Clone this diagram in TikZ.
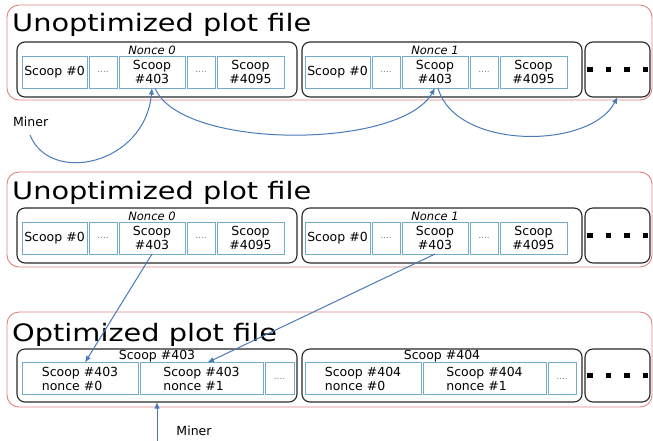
\documentclass[tikz,border=0pt]{standalone}
\usepackage{fontspec}
\setmainfont{DejaVu Sans}
\usepackage{graphicx}
\usetikzlibrary{positioning,arrows.meta}

\definecolor{redline}{RGB}{222,130,130}
\definecolor{boxline}{RGB}{40,40,40}
\definecolor{cellblue}{RGB}{115,172,200}
\definecolor{linkblue}{RGB}{72,122,186}

\newcommand{\plottitle}[1]{\scalebox{1.2}[1]{\fontsize{24}{28}\selectfont #1}}
\newcommand{\dotrow}{\rule{5.5pt}{5.5pt}\hspace{13pt}\rule{5.5pt}{5.5pt}\hspace{13pt}\rule{5.5pt}{5.5pt}\hspace{13pt}\rule{5.5pt}{5.5pt}}

\begin{document}
\begin{tikzpicture}
[x=1pt,y=-1pt,node distance=2pt,
 plotfile/.style={draw=redline,line width=0.9pt,rounded corners=12pt,anchor=north west,minimum width=645pt,minimum height=95pt,inner sep=0pt,outer sep=0pt},
 noncebox/.style={draw=boxline,line width=1.1pt,rounded corners=8pt,anchor=north west,minimum width=280pt,minimum height=55pt,inner sep=0pt,outer sep=0pt},
 morebox/.style={noncebox,minimum width=65pt},
 cell/.style={draw=cellblue,line width=0.8pt,minimum height=32pt,inner sep=1pt,outer sep=0pt,align=center,font=\fontsize{12.5}{14}\selectfont},
 gapcell/.style={cell,minimum width=28pt,text=gray,font=\fontsize{9}{10}\selectfont},
 title/.style={anchor=base west,inner sep=0pt},
 tag/.style={inner sep=1pt,font=\fontsize{11.5}{13}\selectfont\itshape},
 minerlbl/.style={inner sep=0pt,font=\fontsize{12.5}{14}\selectfont},
 link/.style={draw=linkblue,line width=1pt,-{Latex[length=6.5pt,width=5.5pt]}}]
\useasboundingbox (0,0) rectangle (653,440);

% unoptimized plot file, seek per nonce
\node[plotfile] (tfile) at (7,5) {};
\node[title] (ttitle) at (12,31) {\plottitle{Unoptimized plot file}};
\node[noncebox] (tn0) at (17,42) {};
\node[noncebox] (tn1) at (302,42) {};
\node[morebox] (tmore) at (585,42) {\dotrow};
\node[cell,minimum width=65pt,anchor=west] (t0a) at (22,72) {Scoop \#0};
\node[gapcell,right=of t0a] (t0b) {....};
\node[cell,minimum width=66pt,right=of t0b] (t0c) {Scoop\\\#403};
\node[gapcell,right=of t0c] (t0d) {....};
\node[cell,minimum width=67pt,right=of t0d] (t0e) {Scoop\\\#4095};
\node[tag,above=0pt of t0c] (t0tag) {Nonce 0};
\node[cell,minimum width=65pt,anchor=west] (t1a) at (305,72) {Scoop \#0};
\node[gapcell,right=of t1a] (t1b) {....};
\node[cell,minimum width=66pt,right=of t1b] (t1c) {Scoop\\\#403};
\node[gapcell,right=of t1c] (t1d) {....};
\node[cell,minimum width=67pt,right=of t1d] (t1e) {Scoop\\\#4095};
\node[tag,above=0pt of t1c] (t1tag) {Nonce 1};
\node[minerlbl,anchor=west] (tminer) at (13,122) {Miner};
\coordinate (tfoot) at (30,135);
\draw[link] (tfoot) .. controls (50,185) and (145,165) .. (t0c.south);
\draw[link] ([xshift=3pt]t0c.south) .. controls (180,150) and (400,150) .. (t1c.south);
\draw[link] ([xshift=3pt]t1c.south) .. controls (455,150) and (590,150) .. (tmore.south);

% unoptimized plot file again
\node[plotfile] (mfile) at (7,172) {};
\node[title] (mtitle) at (12,199) {\plottitle{Unoptimized plot file}};
\node[noncebox] (mn0) at (17,208) {};
\node[noncebox] (mn1) at (302,208) {};
\node[morebox] (mmore) at (585,208) {\dotrow};
\node[cell,minimum width=65pt,anchor=west] (m0a) at (22,238) {Scoop \#0};
\node[gapcell,right=of m0a] (m0b) {....};
\node[cell,minimum width=66pt,right=of m0b] (m0c) {Scoop\\\#403};
\node[gapcell,right=of m0c] (m0d) {....};
\node[cell,minimum width=67pt,right=of m0d] (m0e) {Scoop\\\#4095};
\node[tag,above=0pt of m0c] (m0tag) {Nonce 0};
\node[cell,minimum width=65pt,anchor=west] (m1a) at (305,238) {Scoop \#0};
\node[gapcell,right=of m1a] (m1b) {....};
\node[cell,minimum width=66pt,right=of m1b] (m1c) {Scoop\\\#403};
\node[gapcell,right=of m1c] (m1d) {....};
\node[cell,minimum width=67pt,right=of m1d] (m1e) {Scoop\\\#4095};
\node[tag,above=0pt of m1c] (m1tag) {Nonce 1};

% optimized plot file, scoops grouped
\node[plotfile] (ofile) at (7,312) {};
\node[title] (otitle) at (12,341) {\plottitle{Optimized plot file}};
\node[noncebox,minimum height=53pt] (o0) at (17,349) {};
\node[noncebox,minimum height=53pt] (o1) at (302,349) {};
\node[morebox,minimum height=53pt] (omore) at (585,349) {\dotrow};
\node[cell,minimum width=116pt,anchor=west,align=left] (o0a) at (22,378.5) {Scoop \#403\\nonce \#0};
\node[cell,minimum width=123pt,right=of o0a,align=left] (o0b) {Scoop \#403\\nonce \#1};
\node[gapcell,minimum width=29pt,right=of o0b] (o0c) {....};
\node[inner sep=1pt,anchor=north,font=\fontsize{12.5}{14}\selectfont] (o0tag) at (o0.north) {Scoop \#403};
\node[cell,minimum width=116pt,anchor=west,align=left] (o1a) at (305,378.5) {Scoop \#404\\nonce \#0};
\node[cell,minimum width=123pt,right=of o1a,align=left] (o1b) {Scoop \#404\\nonce \#1};
\node[gapcell,minimum width=28pt,right=of o1b] (o1c) {....};
\node[inner sep=1pt,anchor=north,font=\fontsize{12.5}{14}\selectfont] (o1tag) at (o1.north) {Scoop \#404};
\draw[link] (m0c.south) -- ([xshift=5pt]o0a.north);
\draw[link] (m1c.south) -- ([xshift=6pt]o0b.north);
\coordinate (ofoot) at (157,446);
\draw[link] (ofoot) -- (o0.south);
\node[minerlbl] (ominer) at (194,431) {Miner};
\end{tikzpicture}
\end{document}
